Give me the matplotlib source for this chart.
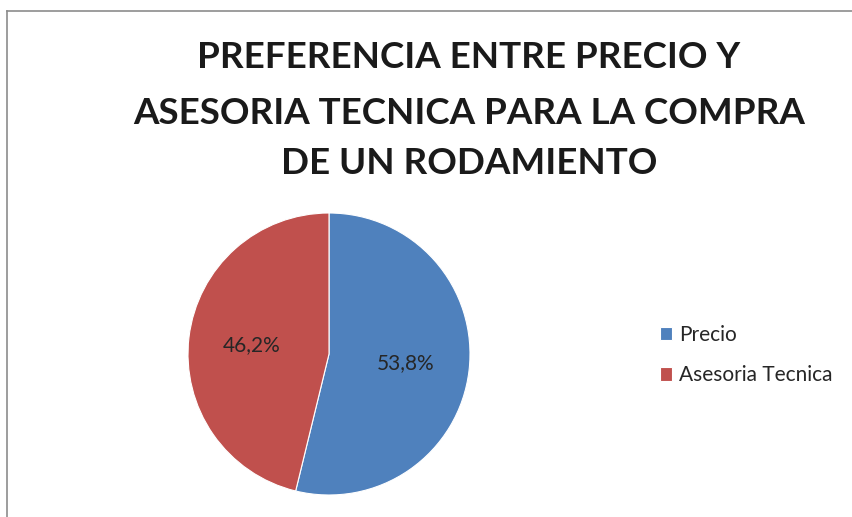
import matplotlib.pyplot as plt
from matplotlib.lines import Line2D

# data
categories = ['Precio', 'Asesoria Tecnica']
shares = [53.8, 46.2]
colors = ['#4F81BD', '#C0504D']
title_lines = ['PREFERENCIA ENTRE PRECIO Y',
               'ASESORIA TECNICA PARA LA COMPRA',
               'DE UN RODAMIENTO']

plt.rcParams['font.family'] = ['Lato', 'DejaVu Sans']

W, H = 853, 517
fig = plt.figure(figsize=(W / 100, H / 100), dpi=100)
fig.patch.set_facecolor('white')

# chart area border (top and left edges only visible)
fig.add_artist(Line2D([7 / W, 1.0], [1 - 11 / H] * 2, color='#8c8c8c', lw=1.2))
fig.add_artist(Line2D([7 / W] * 2, [0.0, 1 - 11 / H], color='#8c8c8c', lw=1.2))

# title
title_y = [57, 114, 163]
for line, y in zip(title_lines, title_y):
    fig.text(469 / W, 1 - y / H, line, ha='center', va='center',
             fontsize=26.5, fontweight='bold', color='#1a1a1a')

# pie
cx, cy, r = 329, 354, 141
ax = fig.add_axes([(cx - r) / W, (H - cy - r) / H, 2 * r / W, 2 * r / H])
wedges, texts, autotexts = ax.pie(
    shares, colors=colors, startangle=90, counterclock=False,
    autopct=lambda p: f'{p:.1f}%'.replace('.', ','), pctdistance=0.55,
    wedgeprops=dict(edgecolor='white', linewidth=0.8),
    textprops=dict(fontsize=15, color='#262626'))
ax.set_xlim(-1, 1)
ax.set_ylim(-1, 1)
ax.set_aspect('auto')
ax.axis('off')

fig.legend(wedges, categories, loc='center left',
           bbox_to_anchor=(660 / W, 1 - 355 / H), frameon=False,
           fontsize=15, handlelength=0.6, handleheight=0.6,
           handletextpad=0.3, labelspacing=1.0, borderaxespad=0,
           borderpad=0, labelcolor='#262626')

fig.savefig('out.png', dpi=100)
